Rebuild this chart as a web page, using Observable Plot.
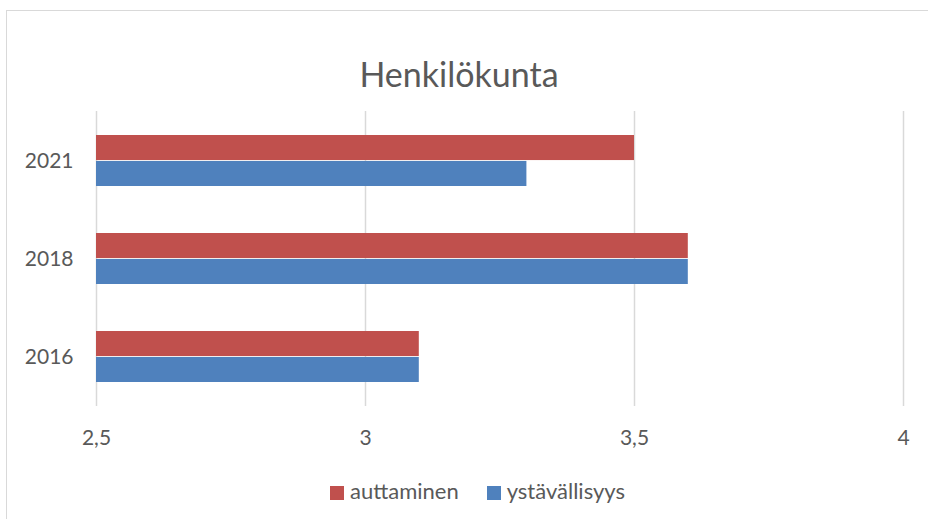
<!DOCTYPE html>
<html>
<head>
<meta charset="utf-8">
<script src="https://cdn.jsdelivr.net/npm/d3@7"></script>
<script src="https://cdn.jsdelivr.net/npm/@observablehq/plot@0.6"></script>
<style>
  html, body { margin: 0; padding: 0; background: #fff; }
  #wrap { position: relative; width: 928px; height: 519px; overflow: hidden; font-family: Lato, "Open Sans", sans-serif; color: #595959; }
  #border { position: absolute; left: 6px; top: 10px; width: 1000px; height: 600px; border: 1.5px solid #d9d9d9; box-sizing: border-box; }
  #chart { position: absolute; left: 0; top: 0; }
  #title { position: absolute; left: 0; width: 918px; top: 54px; text-align: center; font-size: 34px; line-height: 40px; }
  #legend { position: absolute; left: 0; top: 478px; width: 955px; display: flex; justify-content: center; gap: 0; font-size: 22px; line-height: 26px; }
  .item { display: flex; align-items: center; margin: 0 14px; }
  .sw { width: 14px; height: 14px; margin-right: 6px; margin-top: 3px; }
</style>
</head>
<body>
<div id="wrap">
  <div id="border"></div>
  <div id="chart"></div>
  <div id="title">Henkilökunta</div>
  <div id="legend"></div>
</div>
<script>
const years = ["2021", "2018", "2016"];
const seriesNames = ["auttaminen", "ystävällisyys"];
const seriesColors = ["#C0504D", "#4F81BD"];
const auttaminen = [3.5, 3.6, 3.1];
const ystavallisyys = [3.3, 3.6, 3.1];
const xTicks = [2.5, 3, 3.5, 4];
const xTickLabels = ["2,5", "3", "3,5", "4"];

const rows = [];
years.forEach((y, i) => {
  rows.push({year: y, series: seriesNames[0], value: auttaminen[i]});
  rows.push({year: y, series: seriesNames[1], value: ystavallisyys[i]});
});

const W = 928, H = 519;
const mTop = 111, mBottom = 113, mLeft = 96, mRight = 25;
const padIn = 0.475, padOut = 0.23;
const band = d3.scaleBand(years, [mTop, H - mBottom]).paddingInner(padIn).paddingOuter(padOut);
const half = band.bandwidth() / 2;

const chart = Plot.plot({
  width: W,
  height: H,
  marginTop: mTop,
  marginBottom: mBottom,
  marginLeft: mLeft,
  marginRight: mRight,
  style: {fontFamily: "Lato, 'Open Sans', sans-serif", color: "#595959", background: "transparent"},
  x: {domain: [2.5, 4]},
  y: {domain: years, paddingInner: padIn, paddingOuter: padOut},
  color: {domain: seriesNames, range: seriesColors},
  marks: [
    Plot.ruleX(xTicks, {stroke: "#d9d9d9", strokeWidth: 1.5}),
    Plot.barX(rows.filter(d => d.series === seriesNames[0]), {x1: 2.5, x2: "value", y: "year", fill: "series", insetBottom: half, insetTop: 0}),
    Plot.barX(rows.filter(d => d.series === seriesNames[1]), {x1: 2.5, x2: "value", y: "year", fill: "series", insetTop: half, insetBottom: 0}),
    Plot.axisX({ticks: xTicks, tickFormat: (d) => xTickLabels[xTicks.indexOf(d)], tickSize: 0, tickPadding: 24, fontSize: 21, label: null, fill: "#595959"}),
    Plot.axisY({tickSize: 0, tickPadding: 23, fontSize: 21, label: null, fill: "#595959"})
  ]
});
document.getElementById("chart").appendChild(chart);

const legend = document.getElementById("legend");
seriesNames.forEach((n, i) => {
  const it = document.createElement("div");
  it.className = "item";
  const sw = document.createElement("div");
  sw.className = "sw";
  sw.style.background = seriesColors[i];
  const t = document.createElement("span");
  t.textContent = n;
  it.appendChild(sw);
  it.appendChild(t);
  legend.appendChild(it);
});
</script>
</body>
</html>
